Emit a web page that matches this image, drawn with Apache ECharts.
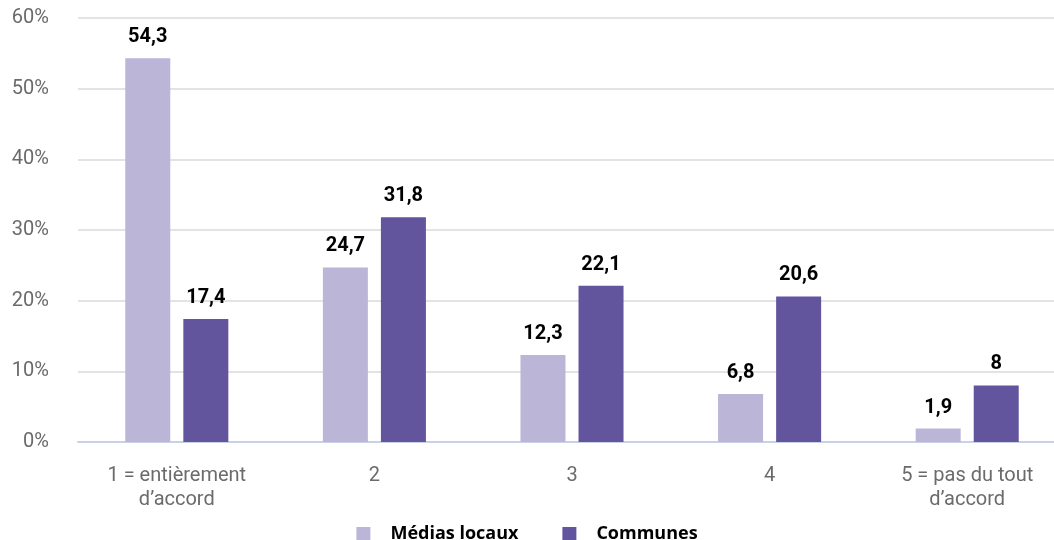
<!DOCTYPE html>
<html>
<head>
<meta charset="utf-8">
<script src="https://cdn.jsdelivr.net/npm/echarts@6/dist/echarts.min.js"></script>
<style>
  html, body { margin: 0; padding: 0; background: #fff; }
  #chart { width: 1054px; height: 540px; }
</style>
</head>
<body>
<div id="chart"></div>
<script>
// Réponses par niveau d'accord (%)
const categories = ['1 = entièrement\nd\u2019accord', '2', '3', '4', '5 = pas du tout\nd\u2019accord'];
const mediasLocaux = [54.3, 24.7, 12.3, 6.8, 1.9];
const communes = [17.4, 31.8, 22.1, 20.6, 8];
const seriesNames = ['Médias locaux', 'Communes'];
const yTicks = [0, 10, 20, 30, 40, 50, 60];

const fontFamily = 'Roboto, "Noto Sans", sans-serif';
const fmt = v => String(v).replace('.', ',');

const chart = echarts.init(document.getElementById('chart'));

const valueLabel = {
  show: true,
  position: 'top',
  distance: 11,
  color: '#000',
  fontWeight: 'bold',
  fontSize: 20,
  fontFamily,
  formatter: p => fmt(p.value)
};

chart.setOption({
  animation: false,
  // the plot runs a little past the right edge of the canvas
  grid: { left: 78, width: 988, top: 18, height: 424, outerBoundsMode: 'none', containLabel: false },
  legend: {
    top: 520,
    left: 'center',
    itemWidth: 14,
    itemHeight: 14,
    itemGap: 44,
    icon: 'rect',
    textStyle: { color: '#000', fontWeight: 'bold', fontSize: 18, fontFamily: '"Open Sans", Roboto, sans-serif', padding: [0, 0, 0, 15] },
    data: seriesNames
  },
  xAxis: {
    type: 'category',
    data: categories,
    axisLine: { lineStyle: { color: '#C9D1E6', width: 2 } },
    axisTick: { show: false },
    axisLabel: { color: '#6b6b6b', fontSize: 20, fontFamily, lineHeight: 24, margin: 22 }
  },
  yAxis: {
    type: 'value',
    min: yTicks[0],
    max: yTicks[yTicks.length - 1],
    interval: 10,
    axisLine: { show: false },
    axisTick: { show: false },
    splitLine: { lineStyle: { color: '#E3E3E3', width: 2 } },
    axisLabel: { color: '#6b6b6b', fontSize: 20, fontFamily, margin: 29, formatter: v => v + '%' }
  },
  series: [
    {
      name: seriesNames[0],
      type: 'bar',
      data: mediasLocaux,
      barWidth: 45,
      barGap: '29%',
      itemStyle: { color: '#BBB5D8' },
      label: valueLabel
    },
    {
      name: seriesNames[1],
      type: 'bar',
      data: communes,
      barWidth: 45,
      itemStyle: { color: '#62559E' },
      label: valueLabel
    }
  ]
});
</script>
</body>
</html>
